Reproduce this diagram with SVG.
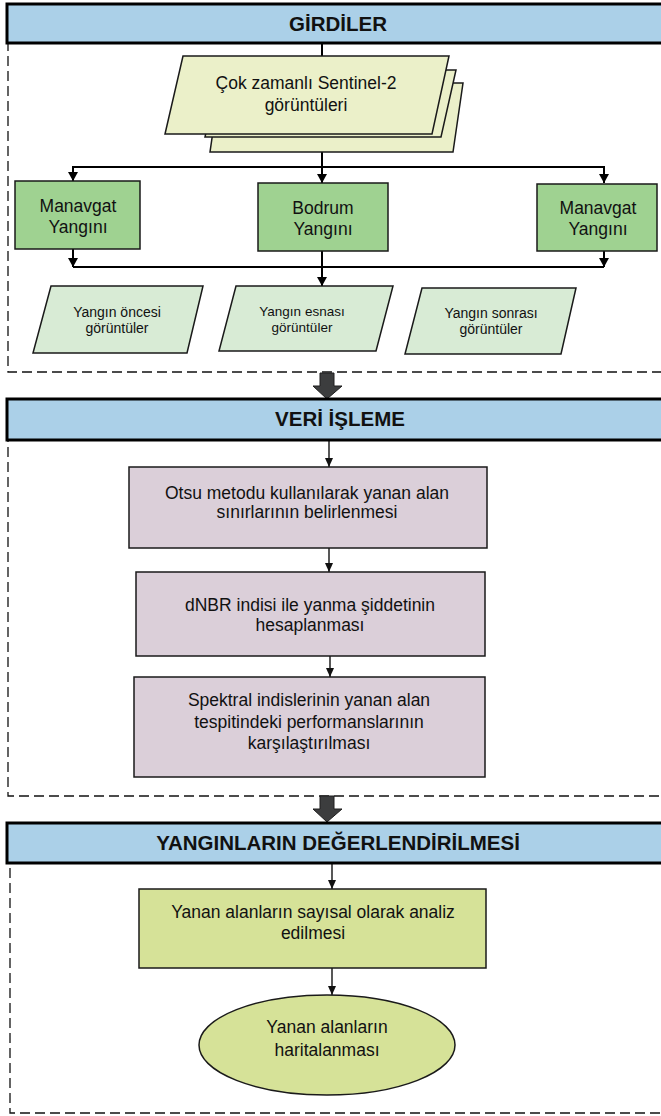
<svg xmlns="http://www.w3.org/2000/svg" width="661" height="1116" viewBox="0 0 661 1116">
<style>
text{font-family:"Liberation Sans",Arial,sans-serif;fill:#111;text-anchor:middle}
.hd{fill:#abd0e8;stroke:#000;stroke-width:3}
.ht{font-size:20.5px;font-weight:bold}
.cont{fill:none;stroke:#111;stroke-width:1.3;stroke-dasharray:10 5}
.t{font-size:17.5px}
.s{font-size:14px}
.s2{font-size:13.5px}
.bx{stroke:#1a1a1a;stroke-width:1.5}
.stack{fill:#ebf0c9}
.fire{fill:#9fd291}
.img{fill:#d8ebd5}
.proc{fill:#dbcfd9}
.eval{fill:#d6e298}
.ln{fill:none;stroke:#000;stroke-width:2}
.ln2{fill:none;stroke:#111;stroke-width:1.4}
.big{fill:#3c3d3e;stroke:#1e1e1e;stroke-width:1}
</style>
<defs>
<marker id="ah" markerUnits="userSpaceOnUse" markerWidth="10" markerHeight="11" refX="9" refY="5" orient="auto">
<path d="M0,0 L9,5 L0,10 Z" fill="#000"/>
</marker>
<marker id="ah2" markerUnits="userSpaceOnUse" markerWidth="10" markerHeight="10" refX="9" refY="4" orient="auto">
<path d="M0,0 L9,4 L0,8 Z" fill="#111"/>
</marker>
</defs>

<!-- containers -->
<g id="containers">
<rect class="cont" x="8" y="43" width="680" height="329"/>
<rect class="cont" x="8" y="440" width="680" height="356"/>
<rect class="cont" x="10" y="863" width="680" height="250"/>
</g>

<!-- connectors -->
<g id="connectors">
<path class="ln" d="M322,43 V57"/>
<path class="ln" d="M322,152 V167"/>
<path class="ln" d="M73,181 V167 H604 V183"/>
<path class="ln" d="M73,167 V181" marker-end="url(#ah)"/>
<path class="ln" d="M604,167 V183" marker-end="url(#ah)"/>
<path class="ln" d="M322,167 V183" marker-end="url(#ah)"/>
<path class="ln" d="M73,267 H604"/>
<path class="ln" d="M73,249 V267" marker-end="url(#ah)"/>
<path class="ln" d="M604,251 V267" marker-end="url(#ah)"/>
<path class="ln" d="M322,251 V286" marker-end="url(#ah)"/>
<path class="ln2" d="M329,440 V467" marker-end="url(#ah2)"/>
<path class="ln2" d="M329,548 V572" marker-end="url(#ah2)"/>
<path class="ln2" d="M330,656 V677" marker-end="url(#ah2)"/>
<path class="ln2" d="M332,863 V889" marker-end="url(#ah2)"/>
<path class="ln2" d="M332,968 V995" marker-end="url(#ah2)"/>
<path class="big" d="M320,373 H334 V386 H342 L327,399 L313,386 H320 Z"/>
<path class="big" d="M320,796 H334 V809 H342 L327,822 L313,809 H320 Z"/>
</g>

<!-- headers -->
<g id="h-girdiler">
<rect class="hd" x="7" y="4" width="680" height="39"/>
<text class="ht" x="338" y="31">GİRDİLER</text>
</g>
<g id="h-veri">
<rect class="hd" x="7" y="399" width="680" height="41"/>
<text class="ht" x="340" y="426">VERİ İŞLEME</text>
</g>
<g id="h-deger">
<rect class="hd" x="7" y="823" width="680" height="40"/>
<text class="ht" x="338" y="850">YANGINLARIN DEĞERLENDİRİLMESİ</text>
</g>

<!-- inputs -->
<g id="n-sentinel">
<polygon class="bx stack" points="220,83 463,83 453,152 210,152"/>
<polygon class="bx stack" points="220,70 456,70 441,137 205,137"/>
<polygon class="bx stack" points="183,56 449,56 432,134 165,134"/>
<text class="t" x="306" y="89">Çok zamanlı Sentinel-2</text>
<text class="t" x="306" y="111">görüntüleri</text>
</g>
<g id="n-manavgat1">
<rect class="bx fire" x="15" y="181" width="125" height="68"/>
<text class="t" x="78" y="212">Manavgat</text>
<text class="t" x="78" y="233">Yangını</text>
</g>
<g id="n-bodrum">
<rect class="bx fire" x="258" y="183" width="130" height="68"/>
<text class="t" x="323" y="214">Bodrum</text>
<text class="t" x="323" y="235">Yangını</text>
</g>
<g id="n-manavgat2">
<rect class="bx fire" x="537" y="184" width="120" height="67"/>
<text class="t" x="598" y="214">Manavgat</text>
<text class="t" x="598" y="235">Yangını</text>
</g>
<g id="n-oncesi">
<polygon class="bx img" points="51,286 203,286 187,353 33,353"/>
<text class="s" x="117" y="317">Yangın öncesi</text>
<text class="s" x="117" y="333">görüntüler</text>
</g>
<g id="n-esnasi">
<polygon class="bx img" points="236,286 393,286 376,351 219,351"/>
<text class="s2" x="302" y="316">Yangın esnası</text>
<text class="s2" x="302" y="332">görüntüler</text>
</g>
<g id="n-sonrasi">
<polygon class="bx img" points="422,288 576,288 561,354 405,354"/>
<text class="s" x="491" y="318">Yangın sonrası</text>
<text class="s" x="491" y="334">görüntüler</text>
</g>

<!-- processing -->
<g id="n-otsu">
<rect class="bx proc" x="129" y="467" width="358" height="81"/>
<text class="t" x="307" y="499">Otsu metodu kullanılarak yanan alan</text>
<text class="t" x="307" y="518">sınırlarının belirlenmesi</text>
</g>
<g id="n-dnbr">
<rect class="bx proc" x="136" y="572" width="349" height="84"/>
<text class="t" x="310" y="611">dNBR indisi ile yanma şiddetinin</text>
<text class="t" x="310" y="631">hesaplanması</text>
</g>
<g id="n-spektral">
<rect class="bx proc" x="134" y="677" width="351" height="100"/>
<text class="t" x="309" y="706">Spektral indislerinin yanan alan</text>
<text class="t" x="309" y="728">tespitindeki performanslarının</text>
<text class="t" x="309" y="749">karşılaştırılması</text>
</g>

<!-- evaluation -->
<g id="n-analiz">
<rect class="bx eval" x="139" y="889" width="347" height="79"/>
<text class="t" x="313" y="918">Yanan alanların sayısal olarak analiz</text>
<text class="t" x="313" y="939">edilmesi</text>
</g>
<g id="n-harita">
<ellipse class="bx eval" cx="327" cy="1045" rx="128" ry="50"/>
<text class="t" x="327" y="1033">Yanan alanların</text>
<text class="t" x="327" y="1056">haritalanması</text>
</g>
</svg>
